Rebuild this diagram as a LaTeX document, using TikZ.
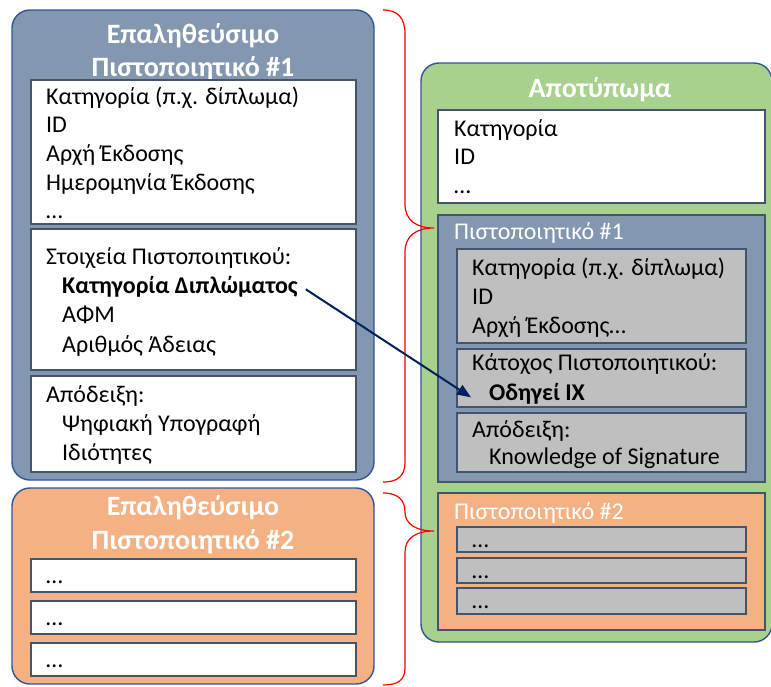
\documentclass[tikz,border=0pt]{standalone}
\usepackage{fontspec}
\setmainfont{Carlito}
\usetikzlibrary{arrows.meta}
\definecolor{slate}{HTML}{8497B0}
\definecolor{peach}{HTML}{F4B183}
\definecolor{leaf}{HTML}{A9D18E}
\definecolor{panelgray}{HTML}{BFBFBF}
\definecolor{rimblue}{HTML}{2F5597}
\definecolor{rimgray}{HTML}{44546A}
\definecolor{navy}{HTML}{002060}
\tikzset{
  panel/.style={draw=rimblue, line width=1.4pt, rounded corners=18pt},
  fieldbox/.style={draw=rimgray, line width=1.6pt, anchor=north west,
    inner sep=0pt, outer sep=0pt},
  txt/.style={anchor=base west, inner sep=0pt, font=\fontsize{24}{28}\selectfont},
  bold txt/.style={txt, font=\fontsize{24}{28}\selectfont\bfseries},
  title/.style={anchor=base, inner sep=0pt, text=white,
    font=\fontsize{28}{32}\selectfont\bfseries},
  label/.style={txt, text=white},
  brace/.style={draw=red, line width=1.2pt},
  link/.style={draw=navy, line width=2pt, -{Triangle[length=14pt,width=11pt]}}
}
\begin{document}
\begin{tikzpicture}[x=1pt, y=-1pt]
\useasboundingbox (0,0) rectangle (771,686);

% ---- verifiable credential #1 ----
\draw[panel, fill=slate] (12,10) rectangle (374,480);
\node[title] (t1a) at (193,43) {Επαληθεύσιμο};
\node[title] (t1b) at (193,76) {Πιστοποιητικό \#1};

\node[fieldbox, fill=white, minimum width=325pt, minimum height=144pt] (m1) at (31,80) {};
\node[txt] (m1a) at (46,104) {Κατηγορία (π.χ. δίπλωμα)};
\node[txt] (m1b) at (46,132) {ID};
\node[txt] (m1c) at (46,161) {Αρχή Έκδοσης};
\node[txt] (m1d) at (46,190) {Ημερομηνία Έκδοσης};
\node[txt] (m1e) at (46,218) {\dots};

\node[fieldbox, fill=white, minimum width=325pt, minimum height=141pt] (s1) at (31,229) {};
\node[txt] (s1a) at (46,264) {Στοιχεία Πιστοποιητικού:};
\node[bold txt] (kd) at (62,293) {Κατηγορία Διπλώματος};
\node[txt] (s1c) at (62,322) {ΑΦΜ};
\node[txt] (s1d) at (62,352) {Αριθμός Άδειας};

\node[fieldbox, fill=white, minimum width=325pt, minimum height=96pt] (p1) at (31,376) {};
\node[txt] (p1a) at (46,402) {Απόδειξη:};
\node[txt] (p1b) at (62,431) {Ψηφιακή Υπογραφή};
\node[txt] (p1c) at (62,460) {Ιδιότητες};

% ---- verifiable credential #2 ----
\draw[panel, fill=peach] (12,488) rectangle (374,684);
\node[title] (t2a) at (193,515) {Επαληθεύσιμο};
\node[title] (t2b) at (193,549) {Πιστοποιητικό \#2};
\node[fieldbox, fill=white, minimum width=325pt, minimum height=33pt] (q1) at (31,559) {};
\node[fieldbox, fill=white, minimum width=325pt, minimum height=33pt] (q2) at (31,601) {};
\node[fieldbox, fill=white, minimum width=325pt, minimum height=33pt] (q3) at (31,643) {};
\node[txt] (q1t) at (46,583) {\dots};
\node[txt] (q2t) at (46,625) {\dots};
\node[txt] (q3t) at (46,667) {\dots};

% ---- presentation ----
\draw[panel, fill=leaf] (421,63) rectangle (772,642);
\node[title] (ta) at (600,97) {Αποτύπωμα};

\node[fieldbox, fill=white, minimum width=327pt, minimum height=93pt] (hd) at (438,110) {};
\node[txt] (hda) at (454,136) {Κατηγορία};
\node[txt] (hdb) at (454,164) {ID};
\node[txt] (hdc) at (454,193) {\dots};

\node[fieldbox, fill=slate, minimum width=327pt, minimum height=267pt] (c1) at (438,215) {};
\node[label] (c1l) at (454,239) {Πιστοποιητικό \#1};
\node[fieldbox, fill=panelgray, minimum width=289pt, minimum height=94pt] (g1) at (457,249) {};
\node[txt] (g1a) at (472,275) {Κατηγορία (π.χ. δίπλωμα)};
\node[txt] (g1b) at (472,304) {ID};
\node[txt] (g1c) at (472,333) {Αρχή Έκδοσης…};
\node[fieldbox, fill=panelgray, minimum width=289pt, minimum height=58pt] (g2) at (457,349) {};
\node[txt] (g2a) at (472,370) {Κάτοχος Πιστοποιητικού:};
\node[bold txt] (od) at (489,400) {Οδηγεί ΙΧ};
\node[fieldbox, fill=panelgray, minimum width=289pt, minimum height=59pt] (g3) at (457,413) {};
\node[txt] (g3a) at (472,437) {Απόδειξη:};
\node[txt] (g3b) at (489,464) {Knowledge of Signature};

\node[fieldbox, fill=peach, minimum width=327pt, minimum height=137pt] (c2) at (438,493) {};
\node[label] (c2l) at (454,519) {Πιστοποιητικό \#2};
\node[fieldbox, fill=panelgray, minimum width=289pt, minimum height=25pt] (h1) at (457,527) {};
\node[fieldbox, fill=panelgray, minimum width=289pt, minimum height=25pt] (h2) at (457,558) {};
\node[fieldbox, fill=panelgray, minimum width=289pt, minimum height=26pt] (h3) at (457,588) {};
\node[txt] (h1t) at (472,547) {\dots};
\node[txt] (h2t) at (472,578) {\dots};
\node[txt] (h3t) at (472,608) {\dots};

% ---- braces ----
\draw[brace] (383,10) .. controls (398,10) and (405,18) .. (405,34)
  -- (405,204) .. controls (405,220) and (416,228) .. (434,228)
  .. controls (416,228) and (405,236) .. (405,252)
  -- (405,462) .. controls (405,476) and (398,482) .. (383,482);
\draw[brace] (383,493) .. controls (398,493) and (405,500) .. (405,512)
  .. controls (405,524) and (416,531) .. (434,531)
  .. controls (416,531) and (405,538) .. (405,552)
  -- (405,668) .. controls (405,680) and (398,685) .. (383,685);

% ---- mapping of the attribute ----
\draw[link] ([xshift=8pt,yshift=-3pt]kd.east) -- ([xshift=-18pt,yshift=-4pt]od.west);
\end{tikzpicture}
\end{document}
